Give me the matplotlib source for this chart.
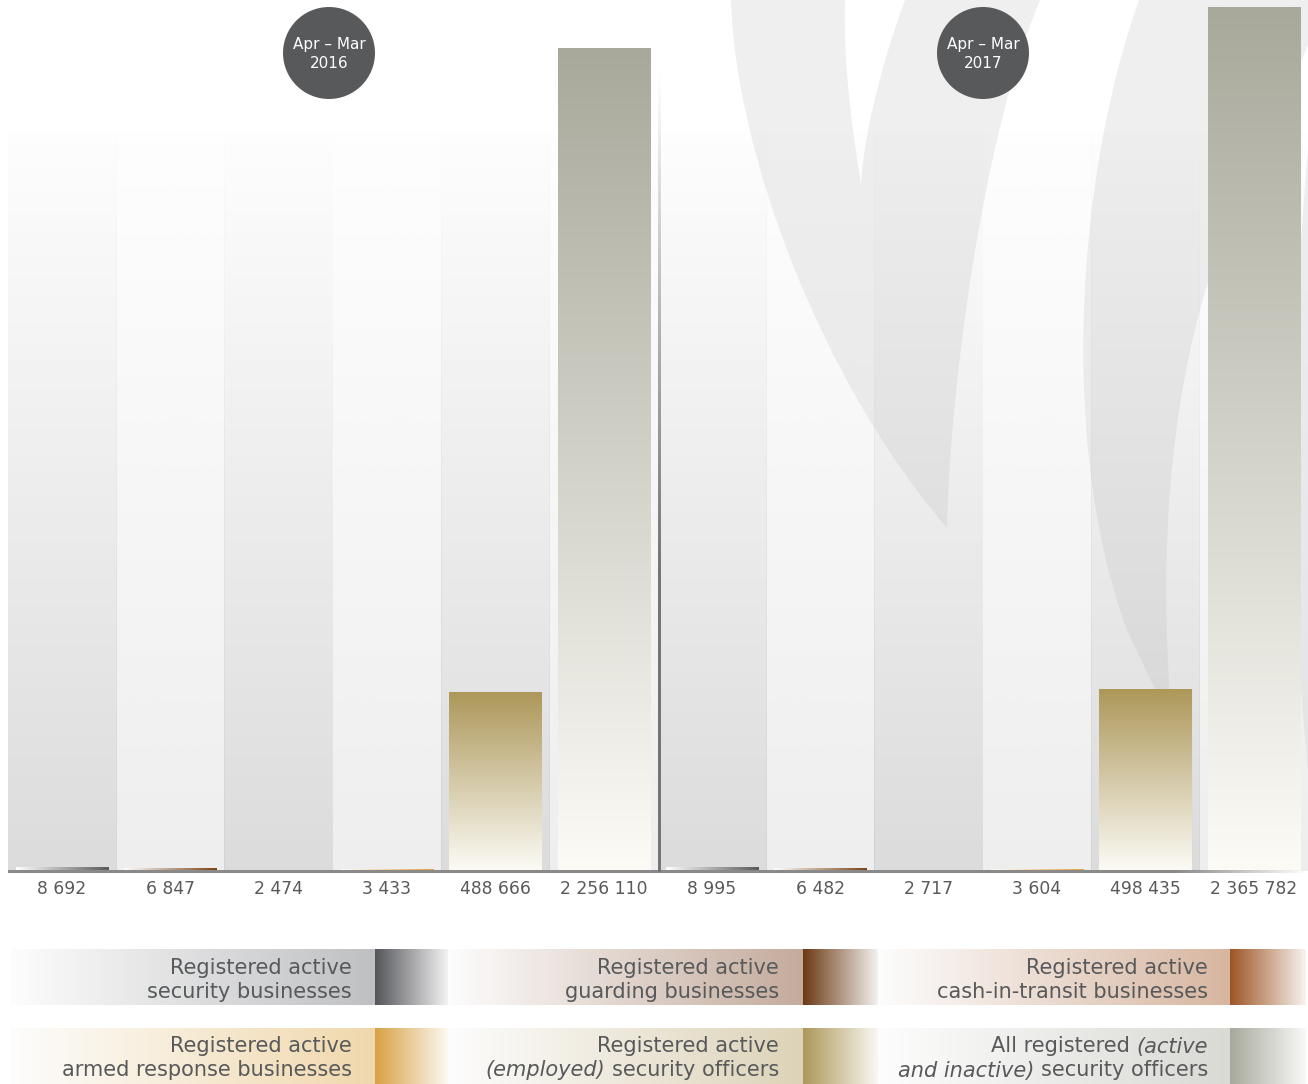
import numpy as np
import matplotlib.pyplot as plt
from matplotlib.colors import to_rgb
from matplotlib.patches import Circle, PathPatch
from matplotlib.path import Path

W, H = 1308, 1084

# --- data -------------------------------------------------------------------
periods = ["2016", "2017"]
values_2016 = [8692, 6847, 2474, 3433, 488666, 2256110]
values_2017 = [8995, 6482, 2717, 3604, 498435, 2365782]

# legend text, one list of (text, italic) pieces per line
series_text = [
    [[("Registered active", False)], [("security businesses", False)]],
    [[("Registered active", False)], [("guarding businesses", False)]],
    [[("Registered active", False)], [("cash-in-transit businesses", False)]],
    [[("Registered active", False)], [("armed response businesses", False)]],
    [[("Registered active", False)], [("(employed)", True), ("security officers", False)]],
    [[("All registered", False), ("(active", True)], [("and inactive)", True), ("security officers", False)]],
]
bar_colors = ["#58595b", "#7a4418", "#a65a2a", "#e0a040", "#ad985a", "#a8a89b"]
bar_fade = ["h", "h", "h", "h", "v", "v"]
box_colors = ["#bfc0c2", "#c4ab9c", "#d7b6a0", "#f0d8ac", "#ddd3b8", "#d9dad4"]
swatch_colors = ["#55565a", "#6b3a14", "#9e5526", "#d9a145", "#ad975a", "#a8a99c"]

TEXT = "#58595b"
plt.rcParams["font.family"] = ["DejaVu Sans"]


def ramp(c0, c1, n=256):
    a, b = np.array(to_rgb(c0)), np.array(to_rgb(c1))
    t = np.linspace(0, 1, n)[:, None]
    return a * (1 - t) + b * t


fig = plt.figure(figsize=(W / 100, H / 100), dpi=100)

# background layer in pixel units: faint watermark swooshes
bg = fig.add_axes([0, 0, 1, 1], zorder=0)
bg.set_xlim(0, W)
bg.set_ylim(H, 0)
bg.axis("off")
M, C, L, Z = Path.MOVETO, Path.CURVE4, Path.LINETO, Path.CLOSEPOLY
shapes = [
    ([(731, 0), (735, 150), (820, 380), (947, 528), (950, 380), (985, 130), (1040, 0),
      (905, 0), (890, 40), (865, 120), (861, 184), (852, 130), (843, 60), (845, 0), (731, 0)],
     [M, C, C, C, C, C, C, L, C, C, C, C, C, C, Z]),
    ([(1139, 0), (1075, 180), (1060, 450), (1127, 630), (1160, 700), (1170, 700),
      (1158, 520), (1175, 380), (1215, 260), (1240, 200), (1280, 110), (1308, 45),
      (1308, 0), (1139, 0)],
     [M, C, C, C, L, L, C, C, C, C, C, C, L, Z]),
    ([(1308, 150), (1290, 350), (1290, 600), (1308, 770), (1308, 150)],
     [M, C, C, C, Z]),
]
for verts, codes in shapes:
    bg.add_patch(PathPatch(Path(verts, codes), fc="#efefef", ec="none"))

# main chart axes
ax = fig.add_axes([7.8 / W, (H - 871) / H, 1300 / W, 871 / H], zorder=1)
ax.patch.set_alpha(0)
for s in ax.spines.values():
    s.set_visible(False)
ax.set_xticks([])
ax.set_yticks([])

values = values_2016 + values_2017
x = np.arange(len(values))
ymax = 2.3877e6
panel_top = ymax * (871 - 133) / 871

# column panels, alternating shade, fading out towards the top
for i in x:
    g, amax = (0.70, 0.46) if i % 2 == 0 else (0.80, 0.33)
    img = np.zeros((256, 1, 4))
    img[..., :3] = g
    img[:, 0, 3] = np.linspace(amax, 0.02, 256)
    ax.imshow(img, extent=(i - 0.5, i + 0.5, 0, panel_top), origin="lower",
              aspect="auto", interpolation="bilinear", zorder=0.5)

colors = bar_colors * 2
fades = bar_fade * 2
bars = ax.bar(x, values, width=0.85, color=colors, edgecolor="none", zorder=2)
for b, c, f in zip(bars, colors, fades):
    x0, w, h = b.get_x(), b.get_width(), b.get_height()
    if f == "h":
        img = ramp("#ffffff", c)[None, :, :]
    else:
        img = ramp("#fcfbf6", c)[:, None, :]
    ax.imshow(img, extent=(x0, x0 + w, 0, h), origin="lower", aspect="auto",
              interpolation="bilinear", zorder=3)

for xi, v in zip(x, values):
    ax.annotate(f"{v:,}".replace(",", " "), xy=(xi, 0), xytext=(0, -12.6),
                textcoords="offset points", ha="center", va="center",
                fontsize=12.3, color=TEXT)

ax.set_xlim(-0.5, len(values) - 0.5)
ax.set_ylim(0, ymax)

# foreground layer in pixel units: axis line, divider, period badges, legend
fg = fig.add_axes([0, 0, 1, 1], zorder=3)
fg.set_xlim(0, W)
fg.set_ylim(H, 0)
fg.axis("off")
fg.patch.set_alpha(0)

line = np.zeros((1, 512, 4))
line[..., :3] = to_rgb("#8a8a8a")
line[0, :, 3] = np.clip((1 - np.linspace(0, 1, 512)) / 0.1, 0, 1)
fg.imshow(line, extent=(8, 1308, 873.3, 870.8), aspect="auto", interpolation="bilinear")

div = np.zeros((256, 1, 4))
div[..., :3] = to_rgb("#747576")
div[:, 0, 3] = np.clip(np.linspace(0, 1.6, 256), 0, 1)
fg.imshow(div, extent=(658, 660.5, 872, 70), origin="upper", aspect="auto",
          interpolation="bilinear")

for cx, p in zip([329, 983], periods):
    fg.add_patch(Circle((cx, 53), 46, fc="#58595b", ec="none"))
    fg.text(cx, 54, f"Apr – Mar\n{p}", ha="center", va="center", color="white",
            fontsize=11, linespacing=1.3)

# legend blocks: text block fading into a colour swatch
renderer = fig.canvas.get_renderer()
fs = 15
gap = 0.318 * fs * 100 / 72
box_x0 = [10, 448, 878]
sw_x0 = [375, 803, 1230]
sw_x1 = [448, 878, 1306]
text_r = [352, 779, 1208]
row_y = [949, 1028]
fade = np.linspace(0, 0.93, 256)[:, None]
for k, lines in enumerate(series_text):
    r, c = divmod(k, 3)
    y0 = row_y[r]
    y1 = y0 + 56
    box = ramp("#fdfdfd", box_colors[k])[None, :, :]
    fg.imshow(box, extent=(box_x0[c], sw_x0[c], y1, y0), aspect="auto",
              interpolation="bilinear")
    sw = np.array([to_rgb(swatch_colors[k])]) * (1 - fade) + fade
    fg.imshow(sw[None, :, :], extent=(sw_x0[c], sw_x1[c], y1, y0), aspect="auto",
              interpolation="bilinear")
    for j, pieces in enumerate(lines):
        xr = text_r[c]
        ty = y0 + 18.5 + 24 * j
        for txt, it in reversed(pieces):
            t = fg.text(xr, ty, txt, ha="right", va="center", fontsize=fs, color=TEXT,
                        style="italic" if it else "normal")
            xr -= t.get_window_extent(renderer).width + gap

fig.savefig("out.png", dpi=100, facecolor="white")
